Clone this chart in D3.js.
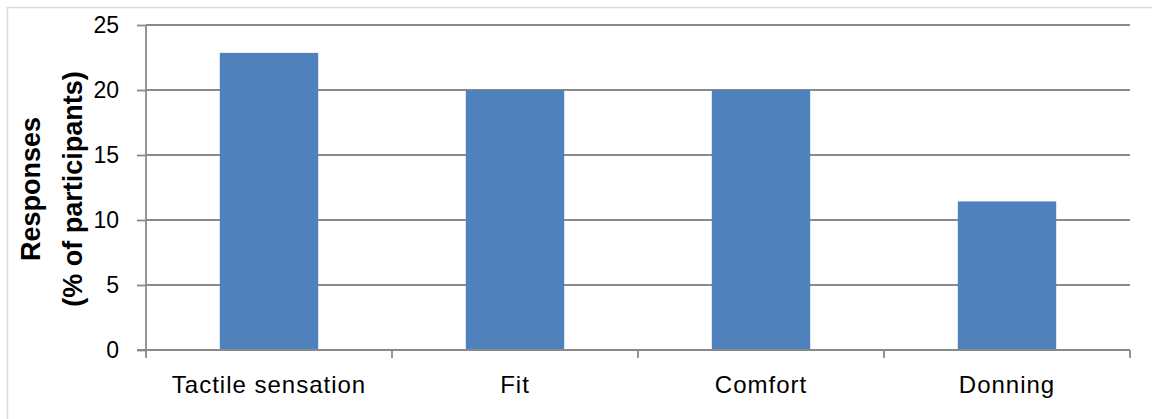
<!DOCTYPE html>
<html>
<head>
<meta charset="utf-8">
<script src="https://cdn.jsdelivr.net/npm/d3@7"></script>
<style>
  html, body { margin: 0; padding: 0; background: #fff; }
  svg { display: block; }
</style>
</head>
<body>
<svg id="chart" width="1152" height="419"></svg>
<script>
// Share of participants (n = 35) naming each glove attribute
const categories = ["Tactile sensation", "Fit", "Comfort", "Donning"];
const responses = [22.857, 20, 20, 11.429];
const yTicks = [0, 5, 10, 15, 20, 25];

const svg = d3.select("#chart");
const W = 1152, H = 419;
const plotLeft = 146, plotRight = 1130, plotTop = 25, plotBottom = 350;
const font = "'Liberation Sans', Arial, sans-serif";
const axisGrey = "#8a8a8a";

// chart frame
svg.append("rect")
  .attr("x", 7.5).attr("y", 7.5)
  .attr("width", W).attr("height", H)
  .attr("fill", "none").attr("stroke", "#d9d9d9").attr("stroke-width", 1.5);

const x = d3.scaleBand().domain(categories).range([plotLeft, plotRight]).paddingInner(0.6).paddingOuter(0.3);
const y = d3.scaleLinear().domain([0, 25]).range([plotBottom, plotTop]);

// horizontal gridlines
svg.append("g").selectAll("line").data(yTicks.filter(d => d > 0)).join("line")
  .attr("x1", plotLeft).attr("x2", plotRight)
  .attr("y1", d => y(d)).attr("y2", d => y(d))
  .attr("stroke", axisGrey).attr("stroke-width", 1.8);

// bars
svg.append("g").selectAll("rect").data(responses).join("rect")
  .attr("x", (d, i) => x(categories[i]))
  .attr("y", d => y(d))
  .attr("width", x.bandwidth())
  .attr("height", d => y(0) - y(d))
  .attr("fill", "#4f81bd");

// y axis
const yAxis = svg.append("g").attr("transform", `translate(${plotLeft},0)`)
  .call(d3.axisLeft(y).tickValues(yTicks).tickSize(9).tickPadding(18));
yAxis.select(".domain").attr("stroke", axisGrey).attr("stroke-width", 1.8)
  .attr("d", `M0,${plotTop}V${plotBottom}`);
yAxis.selectAll(".tick line").attr("stroke", axisGrey).attr("stroke-width", 1.8);
yAxis.selectAll(".tick text")
  .attr("font-family", font)
  .attr("font-size", 23).attr("fill", "#000");

// x axis with boundary ticks between categories
const xg = svg.append("g");
xg.append("line").attr("x1", plotLeft - 9).attr("x2", plotRight)
  .attr("y1", plotBottom).attr("y2", plotBottom)
  .attr("stroke", axisGrey).attr("stroke-width", 1.8);
const bounds = d3.range(categories.length + 1).map(i => plotLeft + i * x.step());
xg.selectAll("line.b").data(bounds).join("line").attr("class", "b")
  .attr("x1", d => d).attr("x2", d => d)
  .attr("y1", plotBottom).attr("y2", plotBottom + 8)
  .attr("stroke", axisGrey).attr("stroke-width", 1.8);
xg.selectAll("text").data(categories).join("text")
  .attr("x", d => x(d) + x.bandwidth() / 2)
  .attr("y", 393)
  .attr("text-anchor", "middle")
  .attr("font-family", font)
  .attr("font-size", 24).attr("letter-spacing", 1)
  .attr("fill", "#000")
  .text(d => d);

// y axis title
const title = svg.append("text")
  .attr("transform", "translate(0,189) rotate(-90)")
  .attr("text-anchor", "middle")
  .attr("font-family", font)
  .attr("font-weight", "bold").attr("font-size", 27).attr("fill", "#000");
title.append("tspan").attr("x", 0).attr("y", 40).text("Responses");
title.append("tspan").attr("x", 0).attr("y", 82).text("(% of participants)");
</script>
</body>
</html>
